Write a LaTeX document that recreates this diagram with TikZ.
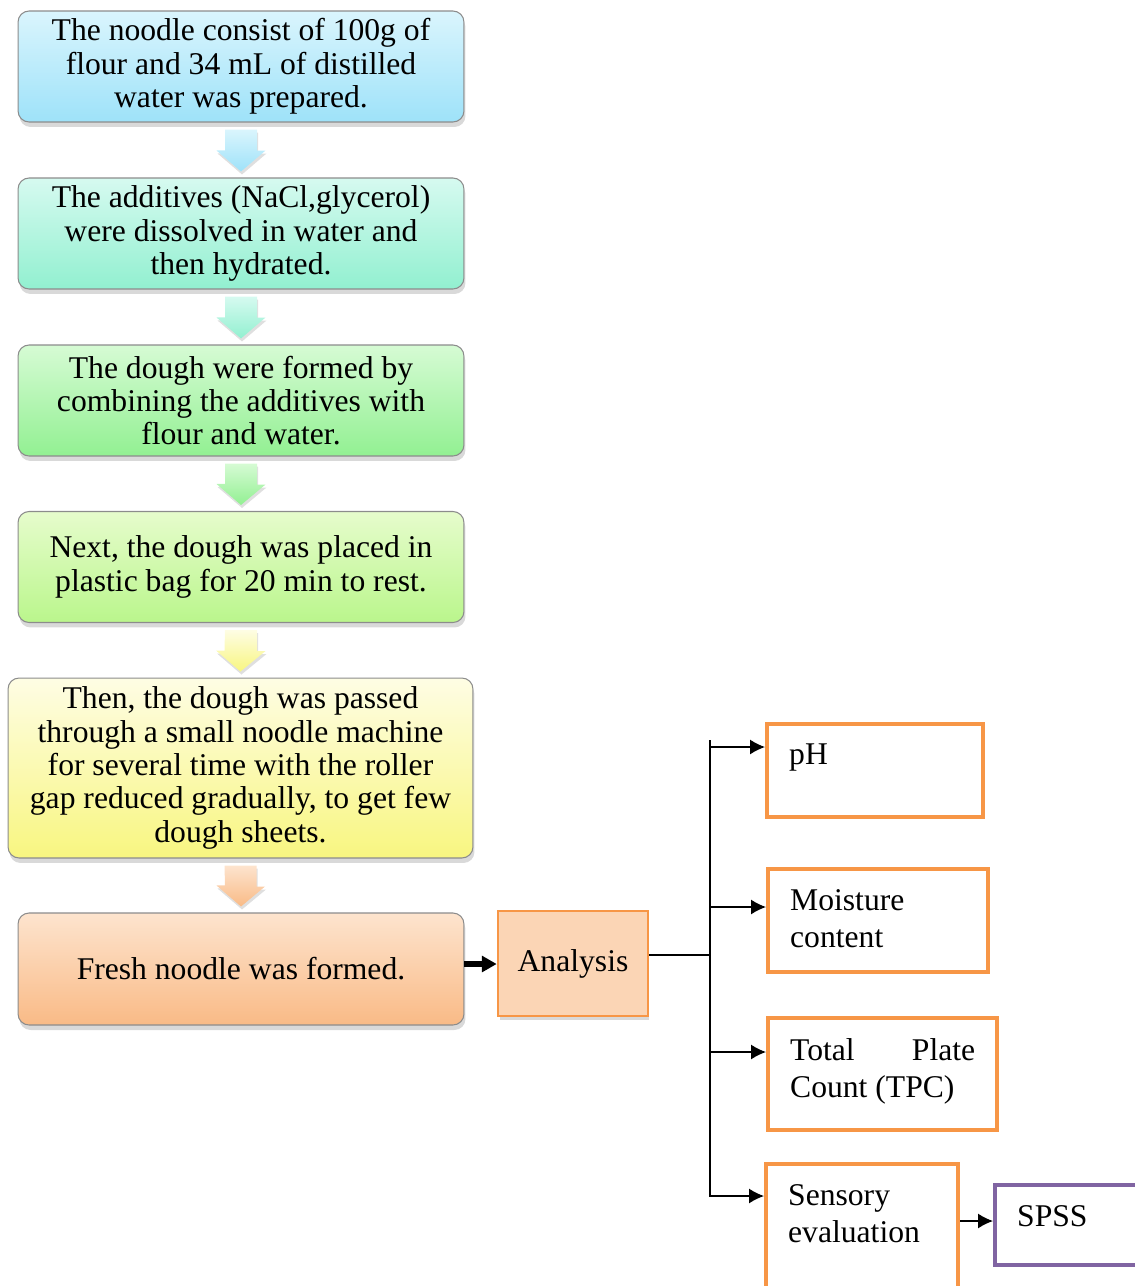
\documentclass[tikz,border=0pt]{standalone}
\usepackage{fontspec}
\setmainfont{Liberation Serif}
\usepackage{xcolor}
\usepackage{tikz}
\usetikzlibrary{shapes,arrows,arrows.meta,positioning,calc,shadows}
\definecolor{boxgray}{RGB}{140, 140, 140}
\definecolor{cyantop}{RGB}{218, 245, 253}
\definecolor{cyanbot}{RGB}{158, 226, 249}
\definecolor{aquatop}{RGB}{214, 250, 240}
\definecolor{aquabot}{RGB}{146, 240, 208}
\definecolor{greentop}{RGB}{214, 251, 212}
\definecolor{greenbot}{RGB}{146, 240, 146}
\definecolor{limetop}{RGB}{230, 252, 204}
\definecolor{limebot}{RGB}{186, 246, 140}
\definecolor{yellowtop}{RGB}{254, 253, 228}
\definecolor{yellowbot}{RGB}{248, 246, 128}
\definecolor{peachtop}{RGB}{253, 228, 206}
\definecolor{peachbot}{RGB}{249, 186, 134}
\definecolor{analysisfill}{RGB}{251, 213, 181}
\definecolor{accentorange}{RGB}{247, 150, 70}
\definecolor{accentpurple}{RGB}{128, 100, 162}

\begin{document}
\begin{tikzpicture}[x=0.02cm, y=-0.02cm,
    stepbox/.style={draw=boxgray, line width=0.6pt, rounded corners=0.22cm, align=center,
        font=\fontsize{18}{19}\selectfont, minimum width=8.92cm, minimum height=2.22cm,
        drop shadow={opacity=0.3, shadow xshift=0.03cm, shadow yshift=-0.1cm}},
    resbox/.style={draw=accentorange, line width=2.5pt, inner xsep=0.44cm, inner ysep=0.4cm,
        anchor=north west, font=\fontsize{18}{21}\selectfont},
    link/.style={line width=0.75pt, -{Latex[length=8.5pt,width=8.5pt]}}]
    \useasboundingbox (0,0) rectangle (1135,1286);

    % preparation steps
    \node[stepbox, top color=cyantop, bottom color=cyanbot] (prep) at (241,66.5)
        {The noodle consist of 100g of\\flour and 34 mL of distilled\\water was prepared.};
    \node[stepbox, top color=aquatop, bottom color=aquabot] (hydr) at (241,233.5)
        {The additives (NaCl,glycerol)\\were dissolved in water and\\then hydrated.};
    \node[stepbox, top color=greentop, bottom color=greenbot] (dough) at (241,400.5)
        {The dough were formed by\\combining the additives with\\flour and water.};
    \node[stepbox, top color=limetop, bottom color=limebot] (rest) at (241,567)
        {Next, the dough was placed in\\plastic bag for 20 min to rest.};
    \node[stepbox, top color=yellowtop, bottom color=yellowbot, minimum width=9.3cm,
        minimum height=3.6cm] (sheet) at (240.5,768)
        {Then, the dough was passed\\through a small noodle machine\\for several time with the roller\\gap reduced gradually, to get few\\dough sheets.};
    \node[stepbox, top color=peachtop, bottom color=peachbot, minimum height=2.24cm] (fresh) at (241,969)
        {Fresh noodle was formed.};

    \foreach \a/\b/\ct/\cb in {prep/hydr/cyantop/cyanbot, hydr/dough/aquatop/aquabot,
        dough/rest/greentop/greenbot, rest/sheet/yellowtop/yellowbot, sheet/fresh/peachtop/peachbot}
        \shade[top color=\ct, bottom color=\cb,
            drop shadow={opacity=0.25, shadow xshift=0.02cm, shadow yshift=-0.06cm}]
            ($(\a.south)+(-16,7)$) -- ++(32,0) -- ++(0,21) -- ++(8.5,0)
            -- ($(\b.north)+(0,-6)$) -- ++(-24.5,-21) -- ++(8.5,0) -- cycle;

    % analysis
    \node[draw=accentorange, line width=1.5pt, fill=analysisfill, minimum width=3cm,
        minimum height=2.1cm, font=\fontsize{18}{19}\selectfont,
        drop shadow={opacity=0.3, shadow xshift=0.03cm, shadow yshift=-0.08cm}] (analysis) at (573,963.5) {Analysis};
    \draw[line width=3pt, -{Triangle[length=8.5pt,width=9pt]}] (fresh.east |- 0,964) -- (analysis.west |- 0,964);

    \node[resbox] (ph) at (765,722) {\parbox[c][1.06cm][t]{3.44cm}{pH}};
    \node[resbox] (moist) at (766,867) {\parbox[c][1.26cm][t]{3.52cm}{\raggedright Moisture\\content}};
    \node[resbox] (tpc) at (766,1016) {\parbox[c][1.44cm][t]{3.7cm}{Total\hfill Plate\\Count (TPC)}};
    \node[resbox] (sens) at (764,1162) {\parbox[c][2.16cm][t]{2.96cm}{\raggedright Sensory\\evaluation}};
    \node[resbox, draw=accentpurple] (spss) at (993,1183) {\parbox[c][0.8cm][t]{3cm}{SPSS}};

    \coordinate (bustop) at (710,740);
    \coordinate (busbot) at (710,1197);
    \draw[line width=0.75pt] (analysis.east |- 0,955) -- (bustop |- 0,955);
    \draw[line width=0.75pt] (bustop) -- (busbot);
    \foreach \n/\y in {ph/747, moist/907, tpc/1052, sens/1196}
        \draw[link] (bustop |- 0,\y) -- (\n.west |- 0,\y);
    \draw[link] (sens.east |- 0,1221) -- (spss.west |- 0,1221);
\end{tikzpicture}
\end{document}
